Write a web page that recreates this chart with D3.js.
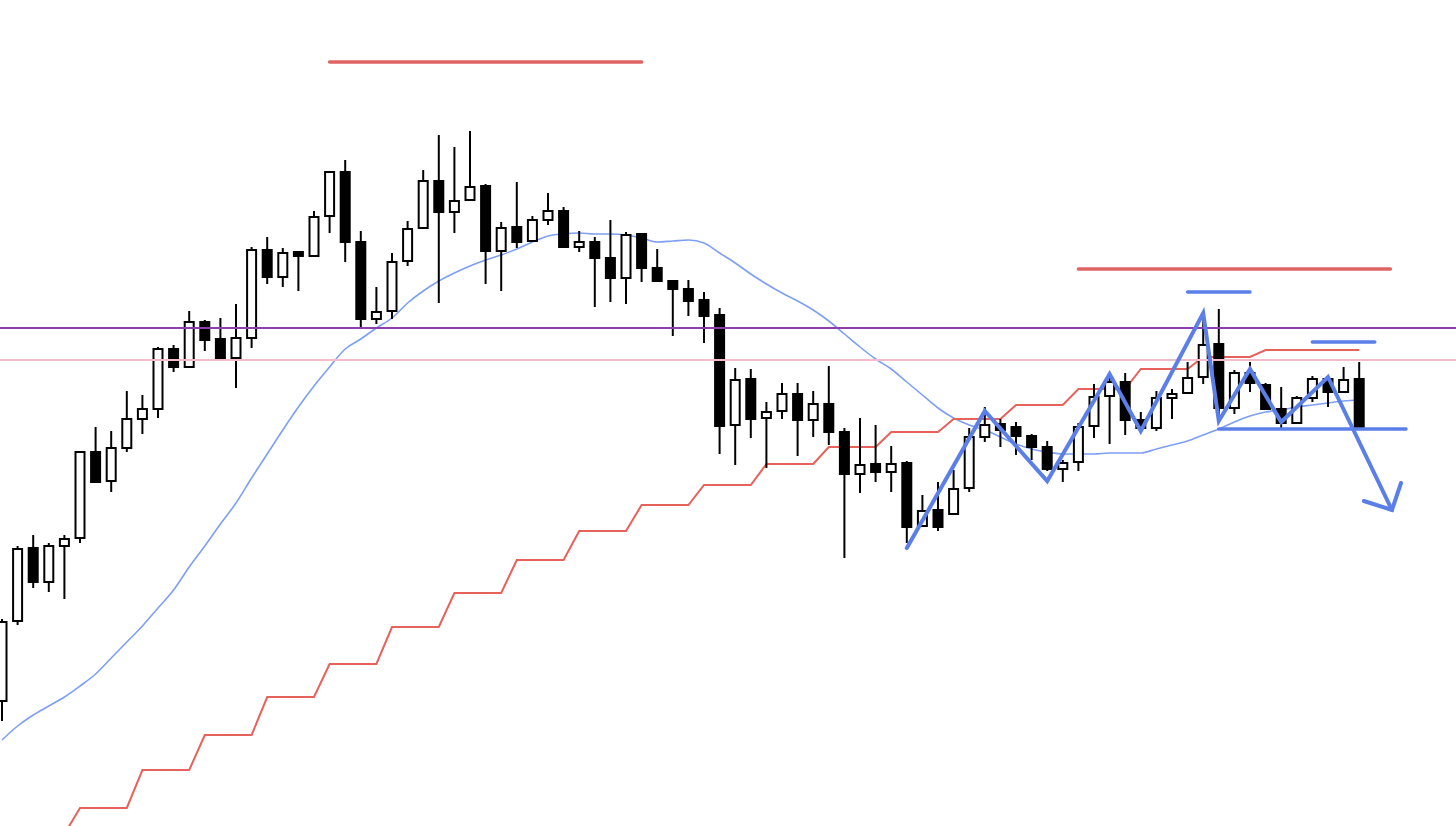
<!DOCTYPE html>
<html>
<head>
<meta charset="utf-8">
<script src="https://cdn.jsdelivr.net/npm/d3@7/dist/d3.min.js"></script>
<style>
html,body{margin:0;padding:0;background:#fff;}
svg{display:block;}
</style>
</head>
<body>
<svg id="chart" width="1456" height="826"></svg>
<script>
// ---- data (prices) ----
const open = [142.99,143.79,144.52,144.18,144.54,144.62,145.48,145.19,145.52,145.81,
145.91,146.51,146.33,146.78,146.61,146.42,146.62,147.50,147.23,147.48,
147.44,147.84,148.28,147.58,146.81,146.89,147.39,147.72,148.19,147.88,
148.00,148.14,147.49,147.73,147.59,147.80,147.89,147.53,147.58,147.42,
147.22,147.66,147.32,147.19,147.11,147.00,146.85,145.75,146.21,145.82,
145.89,146.06,145.80,145.96,145.68,145.26,145.36,145.28,145.37,144.74,
144.90,144.86,145.12,145.63,145.76,145.73,145.64,145.53,145.31,145.38,
145.74,146.04,146.18,145.80,145.72,146.02,146.07,146.23,146.56,145.92,
146.27,146.15,145.91,145.77,146.02,146.21,146.08,146.21];
const close = [143.78,144.51,144.18,144.54,144.61,145.48,145.18,145.52,145.81,145.91,
146.51,146.33,146.78,146.60,146.41,146.62,147.50,147.23,147.47,147.44,
147.83,148.28,147.58,146.81,146.88,147.38,147.71,148.19,147.88,147.99,
148.13,147.49,147.72,147.58,147.80,147.89,147.53,147.58,147.42,147.22,
147.65,147.32,147.19,147.11,146.99,146.84,145.74,146.20,145.81,145.88,
146.06,145.80,145.96,145.68,145.26,145.35,145.28,145.36,144.73,144.89,
144.73,145.11,145.63,145.75,145.70,145.64,145.53,145.31,145.37,145.73,
146.03,146.18,145.80,145.72,146.02,146.06,146.22,146.55,145.92,146.27,
146.17,145.91,145.77,146.02,146.21,146.08,146.20,145.73];
const high = [143.81,144.54,144.65,144.57,144.65,145.49,145.73,145.69,146.09,146.05,
146.53,146.55,146.89,146.80,146.82,146.96,147.53,147.63,147.52,147.49,
147.89,148.29,148.40,147.69,147.13,147.47,147.79,148.30,148.65,148.53,
148.69,148.16,147.78,148.18,147.84,148.07,147.93,147.69,147.63,147.80,
147.68,147.67,147.51,147.20,147.20,147.08,146.92,146.32,146.31,145.98,
146.17,146.17,146.09,146.34,145.72,145.82,145.75,145.54,145.39,145.05,
145.18,145.30,145.72,145.93,145.81,145.78,145.66,145.59,145.40,145.77,
146.16,146.23,146.27,145.88,146.09,146.11,146.38,146.82,146.91,146.30,
146.38,146.17,146.13,146.04,146.24,146.23,146.33,146.38];
const low = [142.79,143.75,144.12,144.08,144.01,144.57,145.17,145.08,145.48,145.66,
145.82,146.28,146.32,146.49,146.40,146.12,146.52,147.16,147.13,147.09,
147.43,147.67,147.38,146.73,146.76,146.81,147.34,147.71,146.97,147.67,
147.99,147.16,147.09,147.52,147.58,147.75,147.52,147.48,146.93,146.98,
146.96,147.18,147.18,146.64,146.84,146.57,145.46,145.35,145.62,145.32,
145.81,145.44,145.63,145.55,144.42,145.07,145.18,145.08,144.57,144.73,
144.69,144.85,145.08,145.58,145.53,145.45,145.40,145.29,145.18,145.29,
145.62,145.56,145.65,145.68,145.69,145.81,146.07,146.16,145.85,145.86,
146.08,145.90,145.72,145.76,145.98,145.93,146.07,145.73];

// moving average
const ma = [142.60,142.74,142.85,142.94,143.03,143.14,143.26,143.42,143.58,143.74,
143.92,144.10,144.33,144.54,144.76,144.97,145.22,145.46,145.70,145.93,
146.14,146.33,146.51,146.61,146.72,146.82,146.97,147.09,147.19,147.27,
147.34,147.40,147.45,147.51,147.58,147.64,147.66,147.67,147.66,147.66,
147.65,147.62,147.58,147.59,147.60,147.57,147.47,147.37,147.26,147.16,
147.07,146.99,146.90,146.79,146.66,146.53,146.41,146.31,146.18,146.05,
145.92,145.82,145.75,145.70,145.63,145.56,145.51,145.48,145.46,145.46,
145.46,145.47,145.47,145.47,145.51,145.55,145.59,145.65,145.71,145.78,
145.84,145.88,145.90,145.93,145.95,145.97,145.99,146.00];

// trailing step line
const stopLine = [null,null,null,null,141.66,141.92,141.92,141.92,141.92,142.30,
142.30,142.30,142.30,142.65,142.65,142.65,142.65,143.03,143.03,143.03,
143.03,143.36,143.36,143.36,143.36,143.73,143.73,143.73,143.73,144.07,
144.07,144.07,144.07,144.40,144.40,144.40,144.40,144.69,144.69,144.69,
144.69,144.95,144.95,144.95,144.95,145.15,145.15,145.15,145.15,145.36,
145.36,145.36,145.36,145.53,145.53,145.53,145.53,145.68,145.68,145.68,
145.68,145.81,145.81,145.81,145.81,145.95,145.95,145.95,145.95,146.11,
146.11,146.11,146.11,146.31,146.31,146.31,146.31,146.43,146.43,146.43,
146.43,146.50,146.50,146.50,146.50,146.50,146.50,146.50];

// full-width horizontal levels
const fullLevels = [146.72, 146.40];
// red resistance segments [fromIndex, toIndex, price]
const redSegments = [[21, 41, 149.38], [69, 89, 147.31]];
// blue segments [fromIndex, toIndex, price]
const blueSegments = [[76, 80, 147.08], [84, 88, 146.58], [78, 90, 145.71]];
// zigzag wave [index, price]
const zigzag = [[58,144.52],[63,145.89],[67,145.19],[71,146.26],[73,145.69],[77,146.87],
[78,145.79],[80,146.31],[82,145.78],[85,146.23],[89.1,144.90]];
const arrowHead = [[87.3,144.99],[89.1,144.90],[89.68,145.17]];
</script>
<script>
const W = 1456, H = 826;
const svg = d3.select("#chart");
const n = open.length;
const x = d3.scaleLinear().domain([0, 87]).range([2, 1359.2]);
const y = d3.scaleLinear().domain([141.74, 150]).range([H, 0]);

const line = d3.line().x(d => x(d[0])).y(d => y(d[1]));

// MA
svg.append("path")
  .attr("d", d3.line().x((d,i)=>x(i)).y(d=>y(d)).curve(d3.curveMonotoneX)(ma))
  .attr("fill","none").attr("stroke","#7d9ff4").attr("stroke-width",1.6);

// step line
svg.append("path")
  .attr("d", d3.line().defined(d=>d!==null).x((d,i)=>x(i)).y(d=>y(d))(stopLine))
  .attr("fill","none").attr("stroke","#e8625c").attr("stroke-width",2);

// candles
const g = svg.append("g");
const idx = d3.range(n);
g.selectAll("line.wick").data(idx).join("line")
  .attr("x1", i=>x(i)).attr("x2", i=>x(i))
  .attr("y1", i=>y(high[i])).attr("y2", i=>y(low[i]))
  .attr("stroke","#000").attr("stroke-width",2);
g.selectAll("rect.body").data(idx).join("rect")
  .attr("x", i=>x(i)-4.5).attr("width", 9)
  .attr("y", i=>y(Math.max(open[i],close[i])))
  .attr("height", i=>Math.max(1, Math.abs(y(open[i])-y(close[i]))))
  .attr("fill", i=> close[i] >= open[i] ? "#fff" : "#000")
  .attr("stroke","#000").attr("stroke-width",2);

// full-width levels
const levelColors = ["#8b3fae", "#f2bccb"];
fullLevels.forEach((p,k)=>{
  svg.append("line").attr("x1",0).attr("x2",W).attr("y1",y(p)).attr("y2",y(p))
    .attr("stroke",levelColors[k]).attr("stroke-width",2);
});

// red segments
redSegments.forEach(s=>{
  svg.append("line").attr("x1",x(s[0])).attr("x2",x(s[1])).attr("y1",y(s[2])).attr("y2",y(s[2]))
    .attr("stroke","#e06464").attr("stroke-width",3.5).attr("stroke-linecap","round");
});

// blue segments
blueSegments.forEach(s=>{
  svg.append("line").attr("x1",x(s[0])).attr("x2",x(s[1])).attr("y1",y(s[2])).attr("y2",y(s[2]))
    .attr("stroke","#5b7fe8").attr("stroke-width",3.5).attr("stroke-linecap","round");
});

// zigzag + arrow
svg.append("path").attr("d", line(zigzag))
  .attr("fill","none").attr("stroke","#5b7fe8").attr("stroke-width",4)
  .attr("stroke-linejoin","miter").attr("stroke-linecap","round");
svg.append("path").attr("d", line(arrowHead))
  .attr("fill","none").attr("stroke","#5b7fe8").attr("stroke-width",4)
  .attr("stroke-linejoin","miter").attr("stroke-linecap","round");
</script>
</body>
</html>
